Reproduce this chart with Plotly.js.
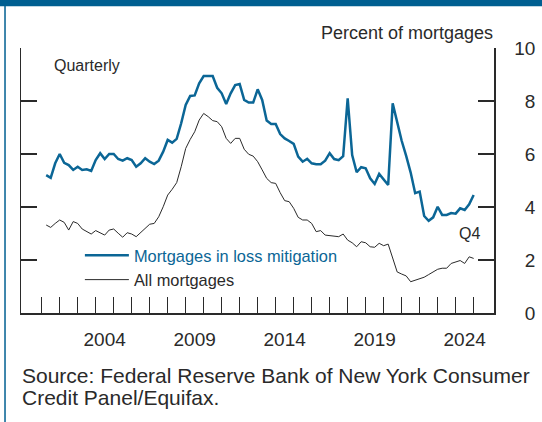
<!DOCTYPE html>
<html>
<head>
<meta charset="utf-8">
<script src="https://cdn.plot.ly/plotly-3.0.1.min.js"></script>
<style>
html,body{margin:0;padding:0;background:#fff;}
#chart{width:542px;height:422px;}
</style>
</head>
<body>
<div id="chart"></div>
<script>
// Quarterly observations, 2001Q1 .. 2024Q4
const firstYear = 2001;
const lastYear = 2024;
const quarters = [];
for (let y = firstYear; y <= lastYear; y++) for (let q = 1; q <= 4; q++) quarters.push(y + 'Q' + q);

const lossMitigation = [
  5.2, 5.1, 5.65, 6.0, 5.67, 5.58, 5.4, 5.52,
  5.4, 5.42, 5.36, 5.77, 6.03, 5.81, 6.0, 6.0,
  5.81, 5.75, 5.84, 5.77, 5.52, 5.65, 5.84, 5.71,
  5.62, 5.75, 6.09, 6.53, 6.43, 6.57, 7.16, 7.85,
  8.19, 8.21, 8.67, 8.94, 8.94, 8.94, 8.5, 8.29,
  7.89, 8.29, 8.6, 8.64, 8.04, 7.94, 7.94, 8.44,
  8.04, 7.26, 7.13, 7.13, 6.75, 6.59, 6.49, 6.38,
  5.9, 5.71, 5.82, 5.65, 5.61, 5.61, 5.75, 6.03,
  5.81, 5.77, 5.92, 8.1, 5.96, 5.31, 5.5, 5.46,
  5.08, 4.87, 5.25, 5.02, 4.83, 7.91, 7.2, 6.5,
  5.93, 5.3, 4.52, 4.58, 3.66, 3.48, 3.61, 4.01,
  3.7, 3.7, 3.77, 3.75, 3.95, 3.89, 4.1, 4.45
];
const allMortgages = [
  3.32, 3.23, 3.38, 3.51, 3.42, 3.13, 3.45, 3.38,
  3.17, 3.07, 2.98, 3.11, 3.03, 2.94, 3.13, 3.17,
  3.01, 2.86, 3.03, 2.98, 2.88, 3.03, 3.2, 3.35,
  3.38, 3.63, 4.01, 4.45, 4.67, 4.92, 5.52, 6.21,
  6.55, 6.84, 7.28, 7.53, 7.41, 7.26, 7.22, 7.03,
  6.59, 6.4, 6.59, 6.59, 6.18, 5.99, 5.92, 5.71,
  5.4, 5.08, 4.92, 4.89, 4.54, 4.24, 4.2, 3.95,
  3.61, 3.51, 3.51, 3.38, 3.07, 3.11, 2.94, 2.92,
  2.92, 2.88, 2.98, 2.75, 2.65, 2.5, 2.69, 2.65,
  2.5, 2.48, 2.63, 2.54, 2.6, 2.03, 1.55, 1.47,
  1.4, 1.18, 1.23, 1.29, 1.35, 1.45, 1.55, 1.65,
  1.69, 1.69, 1.87, 1.92, 1.98, 1.87, 2.12, 2.06
];
const seriesNames = ['Mortgages in loss mitigation', 'All mortgages'];
const xTickLabels = ['2004', '2009', '2014', '2019', '2024'];
const yTickValues = [0, 2, 4, 6, 8, 10];

// quarter label -> decimal position at end of quarter
const xPos = quarters.map(s => parseInt(s.slice(0, 4)) + parseInt(s.slice(5)) / 4);

const BLUE = '#0b6696';
const BAND = '#005f91';
const INK = '#2a2a2a';
const FONT = '"Liberation Sans", Arial, sans-serif';

const yearTicks = [];
for (let y = 2001; y <= 2025; y++) yearTicks.push(y);

const traces = [
  {x: xPos, y: lossMitigation, type: 'scatter', mode: 'lines',
   name: '<span style="color:' + BLUE + '">' + seriesNames[0] + '</span>',
   line: {color: BLUE, width: 2.5}},
  {x: xPos, y: allMortgages, type: 'scatter', mode: 'lines',
   name: seriesNames[1],
   line: {color: INK, width: 1}}
];

const layout = {
  width: 542, height: 422,
  margin: {l: 21, r: 48, t: 48, b: 109, pad: 0},
  paper_bgcolor: '#fff', plot_bgcolor: '#fff',
  font: {family: FONT, color: INK, size: 18},
  showlegend: true,
  legend: {x: 0.1245, y: 0.2825, xanchor: 'left', yanchor: 'top', itemwidth: 44,
           bgcolor: 'rgba(0,0,0,0)', borderwidth: 0,
           font: {size: 16.4, color: INK, family: FONT}, tracegroupgap: 0},
  xaxis: {
    range: [1999.85, 2026.13], showgrid: false, zeroline: false,
    showline: true, linecolor: INK, linewidth: 1.5,
    tickmode: 'array', tickvals: xTickLabels.map(t => parseInt(t) + 0.5), ticktext: xTickLabels,
    ticks: '', ticklabelstandoff: 9,
    tickfont: {size: 19, color: INK, family: FONT},
    minor: {tickmode: 'array', tickvals: yearTicks, ticks: 'inside', ticklen: 16, tickwidth: 1.5, tickcolor: INK, showgrid: false}
  },
  yaxis: {
    range: [0, 10], side: 'right', showgrid: false, zeroline: false,
    showline: true, linecolor: INK, linewidth: 1.5, mirror: 'ticks',
    tickmode: 'array', tickvals: yTickValues,
    ticktext: yTickValues.map(v => (v < 10 ? '\u2007' : '') + v),
    ticks: 'inside', ticklen: 16, tickwidth: 1.5, tickcolor: INK,
    ticklabelstandoff: 15,
    tickfont: {size: 19, color: INK, family: FONT}
  },
  shapes: [
    {type: 'rect', xref: 'paper', yref: 'paper', x0: -0.06, x1: 1.12, y0: 1.158, y1: 1.2,
     fillcolor: BAND, line: {width: 0}, layer: 'above'},
    {type: 'line', xref: 'paper', yref: 'paper', x0: -0.0338, x1: -0.0338, y0: -0.42, y1: 1.16,
     line: {color: BAND, width: 1.5}}
  ],
  annotations: [
    {text: 'Percent of mortgages', xref: 'paper', yref: 'paper', x: 1.003, y: (313 - 33) / 265,
     xanchor: 'right', yanchor: 'middle', showarrow: false, font: {size: 18, color: INK, family: FONT}},
    {text: 'Quarterly', xref: 'paper', yref: 'paper', x: 31 / 473, y: (313 - 65) / 265,
     xanchor: 'left', yanchor: 'middle', showarrow: false, font: {size: 16, color: INK, family: FONT}},
    {text: 'Q4', xref: 'paper', yref: 'paper', x: (482 - 21) / 473, y: (313 - 233) / 265,
     xanchor: 'right', yanchor: 'middle', showarrow: false, font: {size: 16, color: INK, family: FONT}},
    {text: 'Source: Federal Reserve Bank of New York Consumer', xref: 'paper', yref: 'paper',
     x: (20 - 21) / 473, y: (313 - 375) / 265, xanchor: 'left', yanchor: 'middle', showarrow: false,
     font: {size: 21, color: INK, family: FONT}},
    {text: 'Credit Panel/Equifax.', xref: 'paper', yref: 'paper',
     x: (20 - 21) / 473, y: (313 - 397) / 265, xanchor: 'left', yanchor: 'middle', showarrow: false,
     font: {size: 21, color: INK, family: FONT}}
  ]
};

Plotly.newPlot('chart', traces, layout, {staticPlot: true, displayModeBar: false});
</script>
</body>
</html>
